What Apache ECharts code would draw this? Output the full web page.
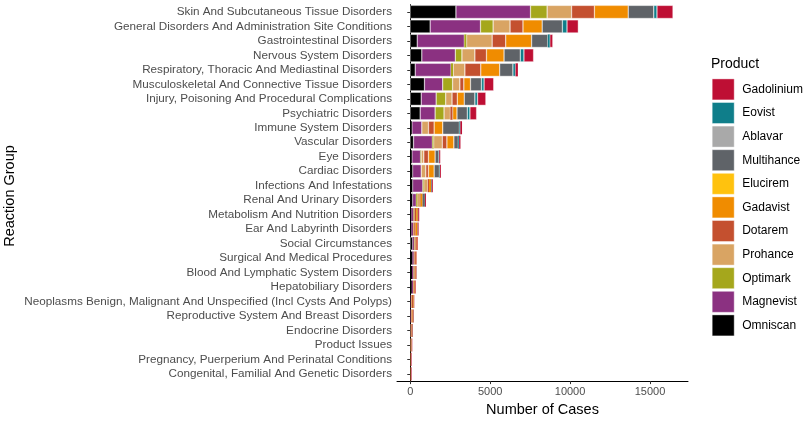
<!DOCTYPE html>
<html>
<head>
<meta charset="utf-8">
<script src="https://cdn.jsdelivr.net/npm/echarts@6/dist/echarts.min.js"></script>
<style>html,body{margin:0;padding:0;background:#fff;}#c{width:803px;height:422px;}</style>
</head>
<body>
<div id="c"></div>
<script>
const categories = ["Skin And Subcutaneous Tissue Disorders","General Disorders And Administration Site Conditions","Gastrointestinal Disorders","Nervous System Disorders","Respiratory, Thoracic And Mediastinal Disorders","Musculoskeletal And Connective Tissue Disorders","Injury, Poisoning And Procedural Complications","Psychiatric Disorders","Immune System Disorders","Vascular Disorders","Eye Disorders","Cardiac Disorders","Infections And Infestations","Renal And Urinary Disorders","Metabolism And Nutrition Disorders","Ear And Labyrinth Disorders","Social Circumstances","Surgical And Medical Procedures","Blood And Lymphatic System Disorders","Hepatobiliary Disorders","Neoplasms Benign, Malignant And Unspecified (Incl Cysts And Polyps)","Reproductive System And Breast Disorders","Endocrine Disorders","Product Issues","Pregnancy, Puerperium And Perinatal Conditions","Congenital, Familial And Genetic Disorders"];
const omniscan   = [2860,1245,435,725,310,890,685,620,105,205,105,145,145,140,80,80,150,140,110,100,20,10,0,0,0,0];
const magnevist  = [4665,3150,2945,2095,2240,1140,935,935,620,1180,540,540,640,230,120,100,80,80,90,70,30,30,20,0,0,0];
const optimark   = [1040,790,145,415,145,620,600,560,0,80,40,0,60,80,20,0,30,0,20,0,0,0,0,0,0,0];
const prohance   = [1530,1060,1600,810,725,455,395,395,415,540,165,290,250,140,70,70,70,50,50,50,60,50,40,30,15,15];
const dotarem    = [1430,810,850,725,995,250,330,145,355,290,290,165,80,60,80,80,80,80,70,60,70,60,40,40,20,20];
const gadavist   = [2115,1200,1620,1100,1180,415,435,270,540,435,415,355,125,120,100,120,40,30,30,40,40,40,30,20,10,10];
const elucirem   = [0,0,0,0,0,0,0,0,0,0,0,0,0,0,0,0,0,0,0,0,0,0,0,0,0,0];
const multihance = [1600,1265,1015,1015,830,685,665,645,1040,270,230,330,30,140,30,20,0,0,10,0,10,20,20,10,0,0];
const ablavar    = [0,0,0,0,0,0,0,0,0,0,0,0,0,0,0,0,0,0,0,0,0,0,0,0,0,0];
const eovist     = [200,290,125,230,165,165,165,165,60,60,30,30,20,10,0,0,0,0,0,0,0,0,0,0,0,0];
const gadolinium = [1000,705,185,600,145,600,520,415,105,80,60,60,60,60,60,50,30,20,20,30,20,20,20,25,35,35];
const xTicks = [0,5000,10000,15000];

const products = [
  ["Omniscan", omniscan, "#000000"],
  ["Magnevist", magnevist, "#8B3181"],
  ["Optimark", optimark, "#A5A71C"],
  ["Prohance", prohance, "#D9A463"],
  ["Dotarem", dotarem, "#C4502F"],
  ["Gadavist", gadavist, "#F08C00"],
  ["Elucirem", elucirem, "#FFC20E"],
  ["Multihance", multihance, "#5F6368"],
  ["Ablavar", ablavar, "#A9A9A9"],
  ["Eovist", eovist, "#0F7E8A"],
  ["Gadolinium", gadolinium, "#BE0F34"]
];
const font = "Liberation Sans, Arial, Helvetica, sans-serif";
const chart = echarts.init(document.getElementById('c'));
chart.setOption({
  animation: false,
  textStyle: {fontFamily: font},
  grid: {left: 397, right: 115, top: 4.7, bottom: 422 - 386.5, containLabel: false},
  title: {text: "Product", left: 711, top: 57, padding: 0, textStyle: {fontSize: 14, fontWeight: 'normal', color: '#000', fontFamily: font}},
  legend: {
    orient: 'vertical', left: 712, top: 78.7, padding: 0, itemWidth: 22, itemHeight: 21, itemGap: 2.2,
    icon: 'rect', data: products.slice().reverse().map(p => p[0]),
    itemStyle: {borderColor: '#fff', borderWidth: 0.4},
    textStyle: {fontSize: 12, color: '#000', fontFamily: font, padding: [0,0,0,3]}
  },
  xAxis: {
    type: 'value', min: -830, max: 17380,
    name: 'Number of Cases', nameLocation: 'middle', nameGap: 20,
    nameTextStyle: {fontSize: 14.5, color: '#000', fontFamily: font},
    axisLine: {show: true, lineStyle: {color: '#000', width: 1}},
    axisTick: {show: true, length: 3, lineStyle: {color: '#333'}, customValues: xTicks},
    axisLabel: {fontSize: 11, color: '#4D4D4D', margin: 5, customValues: xTicks, fontFamily: font, formatter: v => String(v)},
    splitLine: {show: false}
  },
  yAxis: {
    type: 'category', data: categories, inverse: true,
    axisLine: {show: true, lineStyle: {color: '#000', width: 1}},
    axisTick: {show: true, length: 3, alignWithLabel: true, interval: 0, lineStyle: {color: '#333'}},
    axisLabel: {fontSize: 11.7, color: '#4D4D4D', margin: 5, interval: 0, fontFamily: font}
  },
  graphic: [{
    type: 'text', x: 10, y: 196, rotation: Math.PI / 2,
    style: {text: 'Reaction Group', fontSize: 14.5, fill: '#000', font: '14.5px ' + font, textAlign: 'center', textVerticalAlign: 'middle'}
  }],
  series: products.map(p => ({
    name: p[0], type: 'bar', stack: 'total', barCategoryGap: '10%',
    data: p[1].map(v => ({value: v, itemStyle: {borderWidth: v < 150 ? 0 : 0.4}})),
    itemStyle: {color: p[2], borderColor: '#fff', borderWidth: 0.4}
  }))
});
</script>
</body>
</html>
